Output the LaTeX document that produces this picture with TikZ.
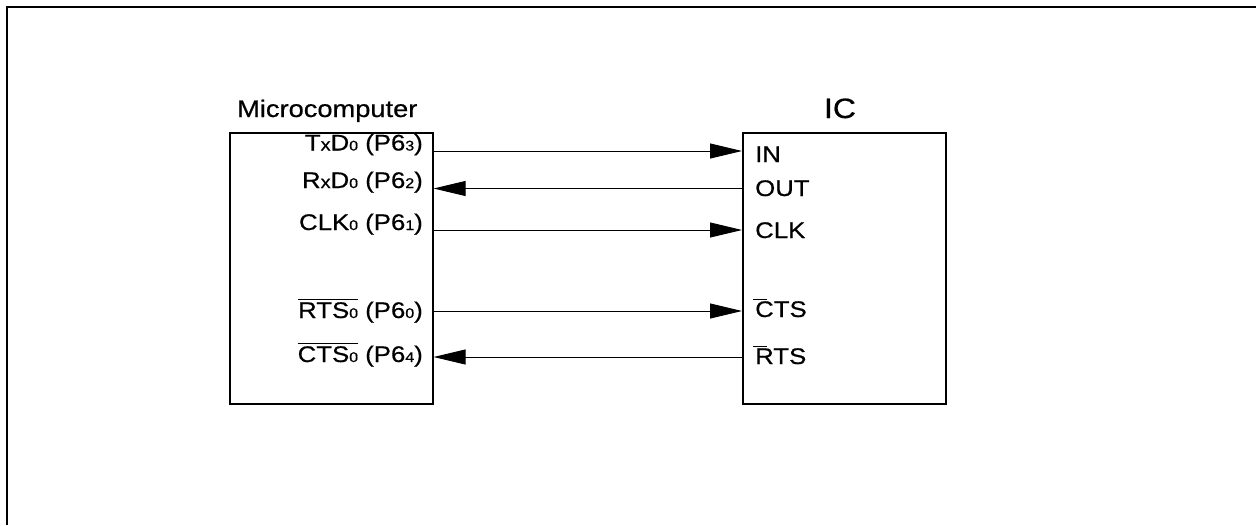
\documentclass[tikz,border=0pt]{standalone}
\usepackage{fontspec}
\setmainfont{Liberation Sans}[FakeStretch=1.14,FakeBold=0.6]
\usetikzlibrary{arrows.meta}
\newcommand\smd[1]{{\fontsize{14}{14}\selectfont #1}}
\newcommand\smx{{\fontsize{17.5}{17.5}\selectfont x}}
\newcommand\ovbar[1]{\leavevmode\vbox{\hrule height 1.1pt \kern 2.5pt \hbox{#1}}}
\newcommand\shortbar{\rlap{\hspace*{-2pt}\rule[17pt]{14pt}{1.1pt}}}
\tikzset{
  chip/.style={draw, line width=1.6pt, minimum width=203pt, minimum height=271pt, anchor=north west, inner sep=0pt},
  pinL/.style={anchor=base east, inner sep=0pt, font=\fontsize{22.6}{22.6}\selectfont},
  pinR/.style={anchor=base west, inner sep=0pt, font=\fontsize{22.6}{22.6}\selectfont},
  wire/.style={line width=0.9pt},
  tipr/.style={-{Triangle[length=32pt,width=15pt]}},
  frame/.style={line width=2pt}
}
\begin{document}
\begin{tikzpicture}[x=1pt,y=-1pt]
\useasboundingbox (0,0) rectangle (1257,525);
% outer frame (top and left edges)
\draw[frame] (6.5,525) -- (6.5,7) -- (1256,7);
% boxes
\node[chip] (mc) at (229,132) {};
\node[chip] (ic) at (742,132) {};
% titles
\node[anchor=base west, inner sep=0pt, font=\fontsize{23.9}{23.9}\selectfont] (mctitle) at (237,117) {Microcomputer};
\node[anchor=base, inner sep=0pt, font=\fontsize{28}{28}\selectfont] (ictitle) at (840,118) {IC};
% microcomputer pins
\node[pinL] (ltx) at (423,150.5) {T\smx D\smd{0} (P6\smd{3})};
\node[pinL] (lrx) at (423,188) {R\smx D\smd{0} (P6\smd{2})};
\node[pinL] (lclk) at (423,230) {CLK\smd{0} (P6\smd{1})};
\node[pinL] (lrts) at (423,318) {\ovbar{RTS\smd{0}} (P6\smd{0})};
\node[pinL] (lcts) at (423,362) {\ovbar{CTS\smd{0}} (P6\smd{4})};
% IC pins
\node[pinR] (rin) at (755,162) {IN};
\node[pinR] (rout) at (755,196) {OUT};
\node[pinR] (rclk) at (755,238) {CLK};
\node[pinR] (rcts) at (755,317) {\shortbar CTS};
\node[pinR] (rrts) at (755,364) {\shortbar RTS};
% connectors
\draw[wire, tipr] (mc.east |- 0,151) -- (ic.west |- 0,151);
\draw[wire, tipr] (ic.west |- 0,188.5) -- (mc.east |- 0,188.5);
\draw[wire, tipr] (mc.east |- 0,230) -- (ic.west |- 0,230);
\draw[wire, tipr] (mc.east |- 0,311) -- (ic.west |- 0,311);
\draw[wire, tipr] (ic.west |- 0,357) -- (mc.east |- 0,357);
\end{tikzpicture}
\end{document}
